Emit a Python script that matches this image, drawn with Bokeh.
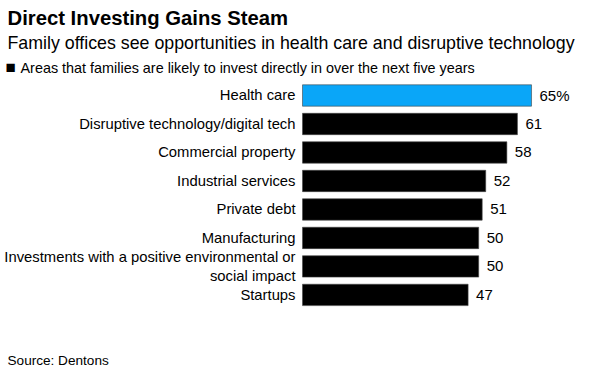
from bokeh.plotting import figure
from bokeh.models import ColumnDataSource, Range1d, Label
from bokeh.embed import file_html
from bokeh.resources import INLINE
from bokeh.core.properties import value

categories = [
    "Health care",
    "Disruptive technology/digital tech",
    "Commercial property",
    "Industrial services",
    "Private debt",
    "Manufacturing",
    "Investments with a positive environmental or\nsocial impact",
    "Startups",
]
values = [65, 61, 58, 52, 51, 50, 50, 47]
value_labels = [f"{v}%" if i == 0 else str(v) for i, v in enumerate(values)]
colors = ["#0aa6f8"] + ["#000000"] * 7

FONT = "Liberation Sans"
W, H = 603, 377

p = figure(width=W, height=H, output_backend="svg", toolbar_location=None,
           x_range=Range1d(-85.72, 85.43), y_range=Range1d(9.898, -3.334),
           min_border=0, min_border_left=0, min_border_right=0,
           min_border_top=0, min_border_bottom=0)
p.axis.visible = False
p.grid.visible = False
p.outline_line_color = None
p.background_fill_color = "white"
p.border_fill_color = "white"

ys = list(range(len(categories)))
src = ColumnDataSource(dict(y=ys, v=values, cat=categories, lab=value_labels,
                            color=colors, lx=[v + 2.27 for v in values],
                            cx=[-1.99] * len(values)))

p.hbar(y="y", left=0, right="v", height=0.75, fill_color="color",
       line_color="#444444", line_width=0.6, source=src)

p.text(x="cx", y="y", text="cat", text_align="right", text_baseline="middle",
       text_font=value(FONT), text_font_size="14.8px", text_color="#000000",
       text_line_height=1.15, source=src)
p.text(x="lx", y="y", text="lab", text_align="left", text_baseline="middle",
       text_font=value(FONT), text_font_size="15px", text_color="#000000",
       source=src)

def lab(text, x, ycenter, size, bold=False):
    p.add_layout(Label(x=x, y=H - ycenter, x_units="screen", y_units="screen",
                       text=text, text_font=FONT, text_font_size=size,
                       text_font_style="bold" if bold else "normal",
                       text_baseline="middle", text_align="left",
                       text_color="#000000"))

lab("Direct Investing Gains Steam", 7, 17, "20.3px", bold=True)
lab("Family offices see opportunities in health care and disruptive technology", 7, 42, "17.8px")
lab("\u25a0", 5, 67, "17px")
lab("Areas that families are likely to invest directly in over the next five years", 20, 67, "14.4px")
lab("Source: Dentons", 7, 360, "13.6px")

open("out.html", "w").write(file_html(p, INLINE))
